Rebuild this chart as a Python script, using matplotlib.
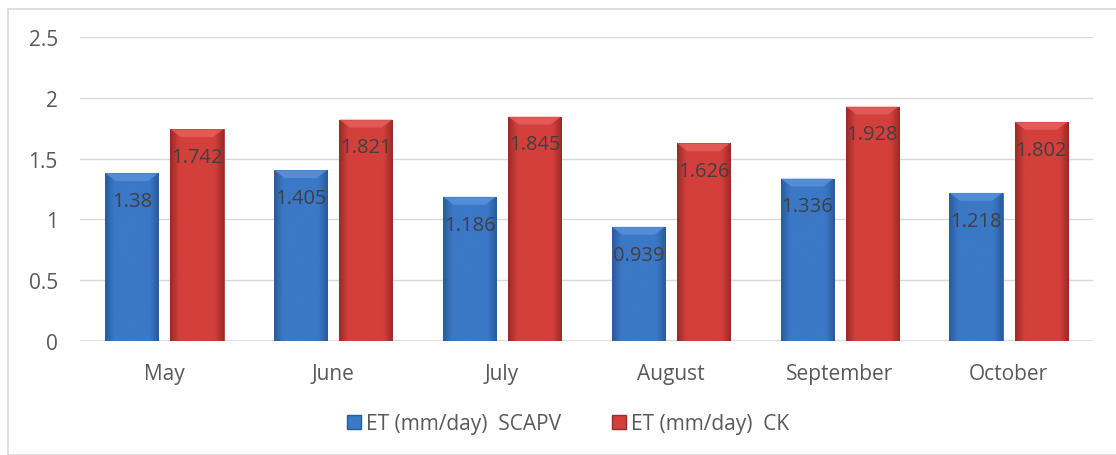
import numpy as np
import matplotlib.pyplot as plt
from matplotlib.patches import Rectangle, Polygon
from matplotlib.lines import Line2D

months = ["May", "June", "July", "August", "September", "October"]
et_scapv = [1.38, 1.405, 1.186, 0.939, 1.336, 1.218]
et_ck = [1.742, 1.821, 1.845, 1.626, 1.928, 1.802]
label_scapv = "ET (mm/day)  SCAPV"
label_ck = "ET (mm/day)  CK"

plt.rcParams['font.family'] = ['Open Sans', 'DejaVu Sans']

BLUE_DARK, BLUE_MID, BLUE_LIGHT = "#2a5b9e", "#3b78c6", "#5a93dc"
RED_DARK, RED_MID, RED_LIGHT = "#9c2a27", "#d3403c", "#e6615c"
TEXT = "#595959"


def gradient_bar(ax, x0, w, h, dark, mid, light):
    # soft shading: darker at the sides, flat body
    cmap = plt.matplotlib.colors.LinearSegmentedColormap.from_list(
        "g", [dark, mid, mid, mid, mid, mid, dark])
    grad = np.linspace(0, 1, 64).reshape(1, -1)
    im = ax.imshow(grad, cmap=cmap, aspect='auto', extent=(x0, x0 + w, 0, h),
                   zorder=2, interpolation='bicubic')
    rect = Rectangle((x0, 0), w, h, facecolor='none', edgecolor=dark,
                     linewidth=0.6, zorder=3)
    ax.add_patch(rect)
    im.set_clip_path(rect)
    # top bevel
    bev_x = w * 0.2
    bev_y = 0.065
    top = Polygon([(x0, h), (x0 + w, h), (x0 + w - bev_x, h - bev_y),
                   (x0 + bev_x, h - bev_y)], closed=True,
                  facecolor=light, edgecolor='none', alpha=0.8, zorder=3)
    ax.add_patch(top)


fig = plt.figure(figsize=(11.16, 4.56), dpi=100)
fig.patches.append(Rectangle((8 / 1116, 0), 1.2, 1 - 10 / 456,
                             transform=fig.transFigure, fill=False,
                             edgecolor="#d9d9d9", linewidth=1.2))
ax = fig.add_axes([80 / 1116, 1 - 342 / 456, 1013 / 1116, 304 / 456])

x = np.arange(len(months))
width = 0.314
offset = 0.193

for i in range(len(months)):
    gradient_bar(ax, x[i] - offset - width / 2, width, et_scapv[i],
                 BLUE_DARK, BLUE_MID, BLUE_LIGHT)
    gradient_bar(ax, x[i] + offset - width / 2, width, et_ck[i],
                 RED_DARK, RED_MID, RED_LIGHT)
    for xv, v in ((x[i] - offset, et_scapv[i]), (x[i] + offset, et_ck[i])):
        ax.annotate(f"{v:g}", (xv, v), xytext=(0, -20), textcoords='offset points',
                    ha='center', va='center', fontsize=14.5, color="#404040", zorder=4)

ax.set_xlim(-0.5, len(months) - 0.5)
ax.set_ylim(0, 2.5)
ax.set_yticks([0, 0.5, 1, 1.5, 2, 2.5])
ax.set_yticklabels(["0", "0.5", "1", "1.5", "2", "2.5"])
ax.set_xticks(x)
ax.set_xticklabels(months)
ax.tick_params(axis='both', length=0, labelsize=15, colors=TEXT)
ax.tick_params(axis='y', pad=16)
ax.tick_params(axis='x', pad=16)
ax.grid(axis='y', color="#d9d9d9", linewidth=1)
ax.set_axisbelow(True)
for s in ax.spines.values():
    s.set_visible(False)
ax.axhline(0, color="#d9d9d9", linewidth=1.2, zorder=1)

handles = [
    Line2D([0], [0], marker='s', linestyle='none', markersize=10,
           markerfacecolor=BLUE_MID, markeredgecolor=BLUE_DARK, label=label_scapv),
    Line2D([0], [0], marker='s', linestyle='none', markersize=10,
           markerfacecolor=RED_MID, markeredgecolor=RED_DARK, label=label_ck),
]
leg = fig.legend(handles=handles, loc='center', bbox_to_anchor=(0.508, 1 - 425 / 456),
                 ncol=2, frameon=False, fontsize=15, handletextpad=0.15,
                 columnspacing=2.3, handlelength=0.9)
for t in leg.get_texts():
    t.set_color(TEXT)

fig.savefig("out.png", dpi=100)
